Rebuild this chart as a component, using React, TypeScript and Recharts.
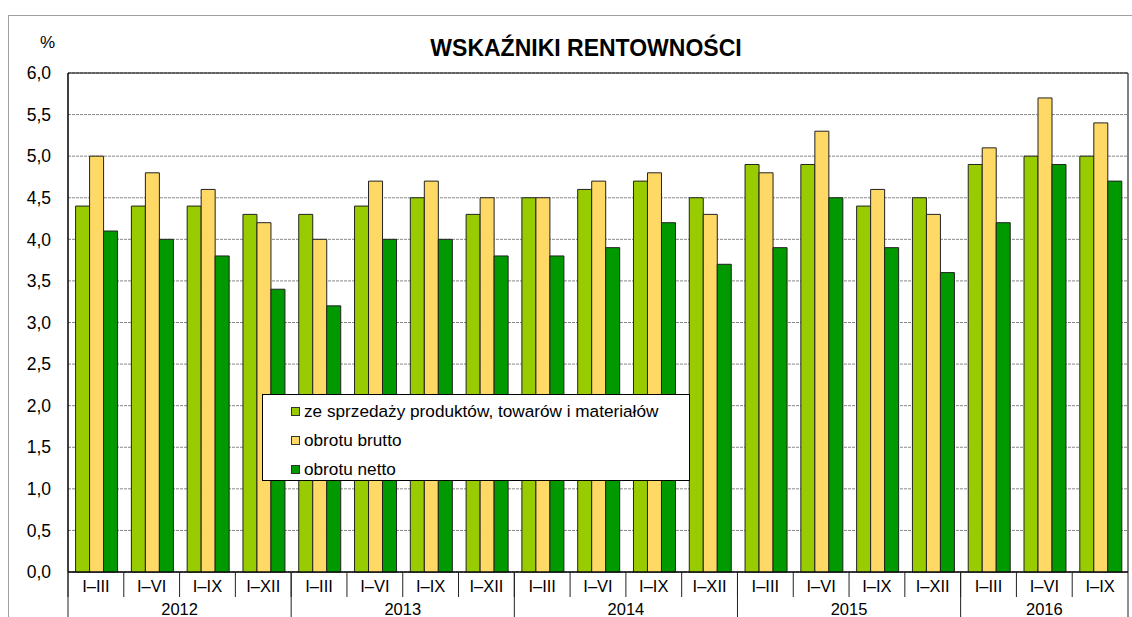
import React from 'react';
import { BarChart, Bar, XAxis, YAxis, CartesianGrid, Legend, ReferenceArea } from 'recharts';

const periods = ['I–III', 'I–VI', 'I–IX', 'I–XII', 'I–III', 'I–VI', 'I–IX', 'I–XII', 'I–III', 'I–VI', 'I–IX', 'I–XII', 'I–III', 'I–VI', 'I–IX', 'I–XII', 'I–III', 'I–VI', 'I–IX'];
const years = ['2012', '2013', '2014', '2015', '2016'];
const yearCounts = [4, 4, 4, 4, 3];
const sprzedaz = [4.4, 4.4, 4.4, 4.3, 4.3, 4.4, 4.5, 4.3, 4.5, 4.6, 4.7, 4.5, 4.9, 4.9, 4.4, 4.5, 4.9, 5.0, 5.0];
const brutto = [5.0, 4.8, 4.6, 4.2, 4.0, 4.7, 4.7, 4.5, 4.5, 4.7, 4.8, 4.3, 4.8, 5.3, 4.6, 4.3, 5.1, 5.7, 5.4];
const netto = [4.1, 4.0, 3.8, 3.4, 3.2, 4.0, 4.0, 3.8, 3.8, 3.9, 4.2, 3.7, 3.9, 4.5, 3.9, 3.6, 4.2, 4.9, 4.7];
const yTicks = [0, 0.5, 1, 1.5, 2, 2.5, 3, 3.5, 4, 4.5, 5, 5.5, 6];
const seriesNames = ['ze sprzedaży produktów, towarów i materiałów', 'obrotu brutto', 'obrotu netto'];

const data = periods.map((p, i) => ({
  period: p,
  sprzedaz: sprzedaz[i],
  brutto: brutto[i],
  netto: netto[i],
}));

const yearOf: number[] = [];
const groupStart: number[] = [];
{
  let k = 0;
  yearCounts.forEach((c, yi) => {
    groupStart.push(k);
    for (let j = 0; j < c; j++) { yearOf.push(yi); k++; }
  });
}

const W = 1132;
const H = 617;
const MARGIN = { top: 73, right: 4, left: 8, bottom: 0 };
const YAXIS_W = 60;
const PLOT_W = W - MARGIN.left - MARGIN.right - YAXIS_W;
const BW = PLOT_W / periods.length;
const FONT = '"Liberation Sans", Arial, sans-serif';

const XTick = (props: any) => {
  const { x, y, payload, index } = props;
  const left = x - BW / 2;
  const right = x + BW / 2;
  const yi = yearOf[index];
  const isFirst = groupStart[yi] === index;
  const isLast = index === periods.length - 1;
  return (
    <g>
      <line x1={left} x2={left} y1={y} y2={y + 25} stroke="#222" strokeWidth={1} />
      {isLast && <line x1={right} x2={right} y1={y} y2={y + 45} stroke="#222" strokeWidth={1} />}
      <text x={x} y={y + 14} textAnchor="middle" dominantBaseline="central" fontSize={16.5} fill="#000" fontFamily={FONT}>
        {payload.value}
      </text>
      {isFirst && (
        <g>
          <line x1={left} x2={left} y1={y} y2={y + 45} stroke="#222" strokeWidth={1} />
          <text x={x + ((yearCounts[yi] - 1) / 2) * BW} y={y + 37} textAnchor="middle" dominantBaseline="central" fontSize={16.5} fill="#000" fontFamily={FONT}>
            {years[yi]}
          </text>
        </g>
      )}
    </g>
  );
};

const LegendBox = (props: any) => {
  const payload = [...(props.payload || [])].sort(
    (a: any, b: any) => seriesNames.indexOf(a.value) - seriesNames.indexOf(b.value)
  );
  return (
    <div style={{ position: 'relative', width: 428, height: 87, boxSizing: 'border-box', border: '1.3px solid #000', background: '#fff', fontFamily: FONT }}>
      {payload.map((item: any, i: number) => (
        <div key={i} style={{ position: 'absolute', left: 28, top: 16 + i * 29 - 10, height: 20, display: 'flex', alignItems: 'center' }}>
          <span style={{ display: 'inline-block', width: 9, height: 9, boxSizing: 'border-box', background: item.color, border: '1px solid #333', marginRight: 4 }} />
          <span style={{ fontSize: 17.2, color: '#000', whiteSpace: 'nowrap' }}>{item.value}</span>
        </div>
      ))}
    </div>
  );
};

export default function App() {
  return (
    <div style={{ position: 'fixed', left: 0, top: 0, width: W, height: H, overflow: 'hidden', background: '#fff', fontFamily: FONT }}>
      <div style={{ position: 'absolute', left: 8, top: 15, width: 1400, height: 900, border: '1px solid #a0a0a0' }} />
      <div style={{ position: 'absolute', left: 0, top: 0 }}>
        <BarChart
          width={W}
          height={H}
          data={data}
          margin={MARGIN}
          barCategoryGap="13.6%"
          barGap={0}
        >
          <CartesianGrid horizontal vertical={false} stroke="#888" strokeDasharray="3 1" />
          <XAxis
            dataKey="period"
            interval={0}
            height={45}
            tickSize={0}
            tickMargin={0}
            tickLine={false}
            axisLine={{ stroke: '#000' }}
            tick={<XTick />}
          />
          <YAxis
            width={YAXIS_W}
            domain={[0, 6]}
            ticks={yTicks}
            interval={0}
            tickLine={false}
            tickSize={0}
            tickMargin={17}
            axisLine={{ stroke: '#000' }}
            tick={{ fontSize: 17.5, fill: '#000', fontFamily: FONT }}
            tickFormatter={(v: number) => v.toFixed(1).replace('.', ',')}
          />
          <ReferenceArea y1={0} y2={6} fill="none" fillOpacity={0} stroke="#000" strokeWidth={1} ifOverflow="visible" />
          <Bar dataKey="sprzedaz" name={seriesNames[0]} fill="#99CC00" stroke="#222" strokeWidth={1} isAnimationActive={false} />
          <Bar dataKey="brutto" name={seriesNames[1]} fill="#FFD966" stroke="#222" strokeWidth={1} isAnimationActive={false} />
          <Bar dataKey="netto" name={seriesNames[2]} fill="#009900" stroke="#222" strokeWidth={1} isAnimationActive={false} />
          <Legend
            layout="vertical"
            align="center"
            verticalAlign="middle"
            wrapperStyle={{ left: 262, top: 394, width: 428, height: 87 }}
            content={<LegendBox />}
          />
        </BarChart>
      </div>
      <div style={{ position: 'absolute', left: 0, width: 1172, top: 34, textAlign: 'center', fontSize: 23, fontWeight: 'bold', color: '#000', lineHeight: '28px' }}>
        WSKAŹNIKI RENTOWNOŚCI
      </div>
      <div style={{ position: 'absolute', left: 40, top: 33, fontSize: 17, color: '#000', lineHeight: '20px' }}>%</div>
    </div>
  );
}
